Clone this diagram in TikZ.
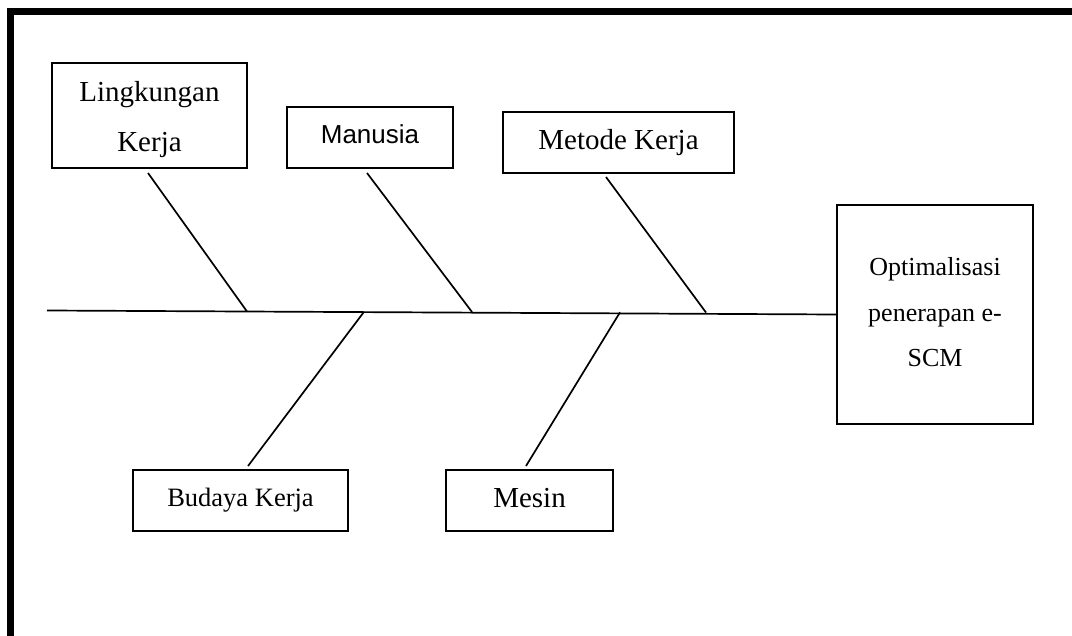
\documentclass[tikz,border=0pt]{standalone}
\usepackage{fontspec}
\setmainfont{Liberation Serif}
\newfontfamily\arialfont{Liberation Sans}
\begin{document}
\begin{tikzpicture}[x=1pt,y=-1pt,
  cause/.style={draw, line width=1.9pt, inner sep=0pt, align=center},
  big/.style={font=\fontsize{29}{33}\selectfont, text height=20.3pt, text depth=6.4pt},
  small/.style={font=\fontsize{26.5}{30}\selectfont, text height=18.5pt, text depth=5.8pt},
  effect/.style={draw, line width=1.9pt, inner sep=0pt},
  caption/.style={align=center, inner sep=0pt},
  bone/.style={line width=1.7pt},
  frame/.style={line width=6.5pt, line join=miter}]
\useasboundingbox (0,0) rectangle (1072,636);

% outer frame (top and left edges)
\draw[frame] (1090,11.5) -- (10.7,11.5) -- (10.7,650);

% cause boxes
\node[effect, minimum width=195pt, minimum height=105pt] (lk) at (149.5,115.5) {};
\node[caption, font=\fontsize{29}{50}\selectfont] (lklabel) at (149.5,120) {Lingkungan\\Kerja};
\node[cause, small, font=\arialfont\fontsize{26}{30}\selectfont,
      minimum width=166pt, minimum height=61pt] (mn) at (370,137.5) {Manusia};
\node[cause, big, minimum width=231pt, minimum height=61pt] (mk) at (618.5,142.5) {Metode Kerja};
\node[cause, small, minimum width=215pt, minimum height=61pt] (bk) at (240.5,500.5) {Budaya Kerja};
\node[cause, big, minimum width=167pt, minimum height=61pt] (ms) at (529.5,500.5) {Mesin};

% effect box
\node[effect, minimum width=196pt, minimum height=219pt] (opt) at (935,314.5) {};
\node[caption, font=\fontsize{26}{45.5}\selectfont]
  (optlabel) at (935,312.5) {Optimalisasi\\penerapan e-\\SCM};

% spine
\coordinate (tail) at (47,310.5);
\draw[bone] (tail) -- (opt.west);

% points where the bones meet the spine
\coordinate (j1) at (247,311.5);
\coordinate (j2) at (364,311.8);
\coordinate (j3) at (472,312);
\coordinate (j4) at (620,312.3);
\coordinate (j5) at (706,312.5);

% free ends of the bones, just off each box
\coordinate (t1) at (148,173);
\coordinate (t3) at (367,173);
\coordinate (t5) at (606,177);
\coordinate (b2) at (248,466);
\coordinate (b4) at (526,466);

\draw[bone] (t1) -- (j1);
\draw[bone] (t3) -- (j3);
\draw[bone] (t5) -- (j5);
\draw[bone] (j2) -- (b2);
\draw[bone] (j4) -- (b4);
\end{tikzpicture}
\end{document}
